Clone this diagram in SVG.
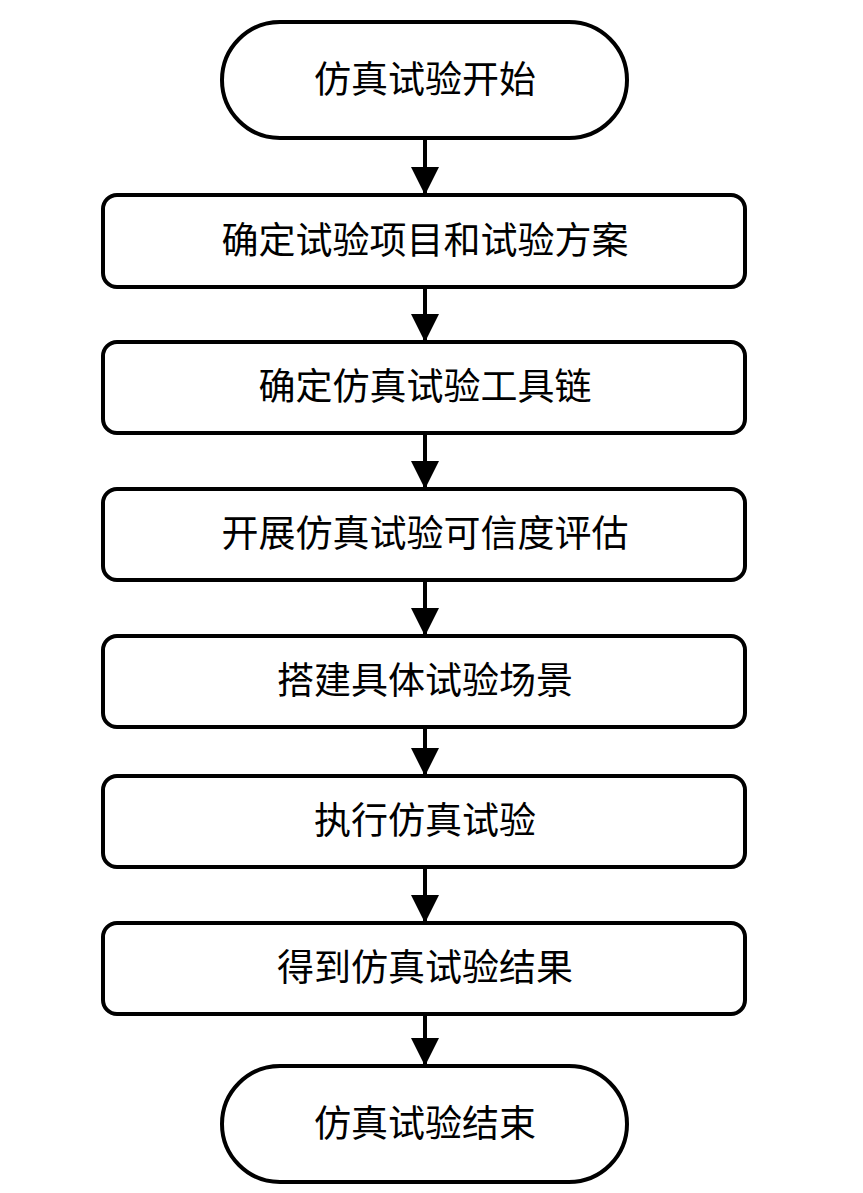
<svg xmlns="http://www.w3.org/2000/svg" width="863" height="1193" viewBox="0 0 863 1193">
<style>
.n{fill:#fff;stroke:#000;stroke-width:4}
.t{font-family:"Liberation Serif","Noto Sans CJK SC",serif;font-size:37px;text-anchor:middle;dominant-baseline:central;fill:#000}
.c{stroke:#000;stroke-width:4;fill:none;marker-end:url(#a)}
</style>
<defs><marker id="a" markerUnits="userSpaceOnUse" markerWidth="28" markerHeight="30" refX="28" refY="14" orient="auto" viewBox="0 0 28 28"><path d="M0,0L28,14L0,28Z" fill="#000"/></marker></defs>
<rect width="863" height="1193" fill="#fff"/>
<g id="connectors">
<line class="c" x1="425" y1="138" x2="425" y2="195"/>
<line class="c" x1="425" y1="287" x2="425" y2="342"/>
<line class="c" x1="425" y1="433" x2="425" y2="489"/>
<line class="c" x1="425" y1="580" x2="425" y2="636"/>
<line class="c" x1="425" y1="727" x2="425" y2="776"/>
<line class="c" x1="425" y1="867" x2="425" y2="923"/>
<line class="c" x1="425" y1="1014" x2="425" y2="1066"/>
</g>
<g id="start"><rect class="n" x="222" y="22" width="405" height="116" rx="58"/><text class="t" x="425" y="80">仿真试验开始</text></g>
<g id="n1"><rect class="n" x="103" y="195" width="642" height="92" rx="14"/><text class="t" x="425" y="241">确定试验项目和试验方案</text></g>
<g id="n2"><rect class="n" x="103" y="342" width="642" height="91" rx="14"/><text class="t" x="425" y="387">确定仿真试验工具链</text></g>
<g id="n3"><rect class="n" x="103" y="489" width="642" height="91" rx="14"/><text class="t" x="425" y="534">开展仿真试验可信度评估</text></g>
<g id="n4"><rect class="n" x="103" y="636" width="642" height="91" rx="14"/><text class="t" x="425" y="681">搭建具体试验场景</text></g>
<g id="n5"><rect class="n" x="103" y="776" width="642" height="91" rx="14"/><text class="t" x="425" y="821">执行仿真试验</text></g>
<g id="n6"><rect class="n" x="103" y="923" width="642" height="91" rx="14"/><text class="t" x="425" y="968">得到仿真试验结果</text></g>
<g id="end"><rect class="n" x="222" y="1066" width="405" height="116" rx="58"/><text class="t" x="425" y="1124">仿真试验结束</text></g>
</svg>
